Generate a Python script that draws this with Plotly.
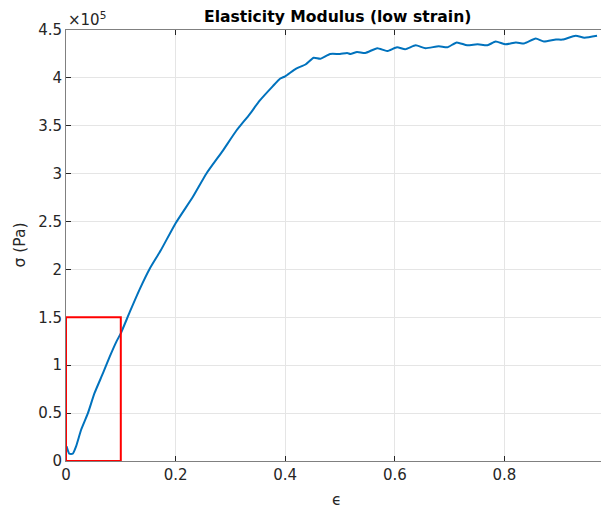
import plotly.graph_objects as go

# strain (epsilon) and stress (Pa)
strain = [0.001, 0.006, 0.0123, 0.0184, 0.0276, 0.040, 0.052, 0.0675, 0.0798, 0.092,
          0.100, 0.1166, 0.135, 0.153, 0.173, 0.200, 0.2316, 0.256, 0.2863, 0.3107,
          0.335, 0.353, 0.3775, 0.391, 0.400, 0.420, 0.437, 0.452, 0.464,
          0.482, 0.500, 0.513, 0.519, 0.531, 0.546, 0.568, 0.586, 0.604, 0.619,
          0.638, 0.656, 0.680, 0.696, 0.713, 0.732, 0.751, 0.769, 0.784, 0.802,
          0.821, 0.836, 0.857, 0.872, 0.894, 0.906, 0.930, 0.946, 0.969]
stress = [0.153e5, 0.076e5, 0.076e5, 0.153e5, 0.326e5, 0.50e5, 0.708e5, 0.917e5, 1.09e5, 1.247e5,
          1.333e5, 1.559e5, 1.80e5, 2.01e5, 2.20e5, 2.483e5, 2.759e5, 3.00e5, 3.241e5, 3.448e5,
          3.62e5, 3.759e5, 3.914e5, 3.993e5, 4.017e5, 4.097e5, 4.14e5, 4.21e5, 4.20e5,
          4.25e5, 4.25e5, 4.26e5, 4.25e5, 4.27e5, 4.26e5, 4.31e5, 4.28e5, 4.32e5, 4.30e5,
          4.34e5, 4.31e5, 4.33e5, 4.32e5, 4.37e5, 4.34e5, 4.35e5, 4.34e5, 4.38e5, 4.35e5,
          4.37e5, 4.36e5, 4.41e5, 4.38e5, 4.40e5, 4.40e5, 4.44e5, 4.42e5, 4.44e5]

# low strain selection box (epsilon, Pa)
box_x = [0, 0.1]
box_y = [0, 1.5e5]

x_ticks = [0, 0.2, 0.4, 0.6, 0.8]
x_tick_labels = ["0", "0.2", "0.4", "0.6", "0.8"]
y_ticks = [0, 0.5e5, 1e5, 1.5e5, 2e5, 2.5e5, 3e5, 3.5e5, 4e5, 4.5e5]
y_tick_labels = ["0", "0.5", "1", "1.5", "2", "2.5", "3", "3.5", "4", "4.5"]

FONT = "DejaVu Sans, Liberation Sans, Arial, sans-serif"
AX = "#262626"

fig = go.Figure()
fig.add_trace(go.Scatter(x=strain, y=stress, mode="lines",
                         line=dict(color="#0072BD", width=2, shape="spline", smoothing=0.5),
                         showlegend=False, hoverinfo="skip"))

fig.add_shape(type="rect", xref="x", yref="y",
              x0=box_x[0], x1=box_x[1], y0=box_y[0], y1=box_y[1],
              line=dict(color="#FF0000", width=2))

axis_common = dict(showline=True, linecolor="#808080", linewidth=1, mirror="ticks",
                   ticks="inside", ticklen=5, tickcolor=AX, showgrid=True,
                   gridcolor="#e5e5e5", gridwidth=1, zeroline=False,
                   tickfont=dict(family=FONT, size=15, color=AX))

fig.update_xaxes(range=[0, 0.989], tickvals=x_ticks, ticktext=x_tick_labels, **axis_common)
fig.update_yaxes(range=[0, 4.5e5], tickvals=y_ticks, ticktext=y_tick_labels, **axis_common)

# axis labels
fig.add_annotation(text="\u03c3 (Pa)", xref="paper", yref="paper", x=0, y=0.5,
                   xanchor="center", yanchor="middle", textangle=-90, xshift=-47,
                   showarrow=False, font=dict(family=FONT, size=15.5, color=AX))
fig.add_annotation(text="\u03f5", xref="paper", yref="paper", x=0.5, y=0,
                   xanchor="center", yanchor="middle", yshift=-39,
                   showarrow=False, font=dict(family=FONT, size=15.5, color=AX))
# exponent
fig.add_annotation(text="\u00d710<sup>5</sup>", xref="paper", yref="paper",
                   x=0.0, y=1.0, xanchor="left", yanchor="bottom", showarrow=False,
                   font=dict(family=FONT, size=15, color=AX), xshift=0, yshift=-1)
# title
fig.add_annotation(text="<b>Elasticity Modulus (low strain)</b>", xref="paper", yref="paper",
                   x=0.5, y=1.0, xanchor="center", yanchor="bottom", showarrow=False,
                   font=dict(family=FONT, size=15.6, color="#000000"), yshift=2)

fig.update_layout(
    width=601, height=503,
    margin=dict(l=58, r=1, t=22, b=50),
    paper_bgcolor="white", plot_bgcolor="white",
)

fig.write_html("out.html")
